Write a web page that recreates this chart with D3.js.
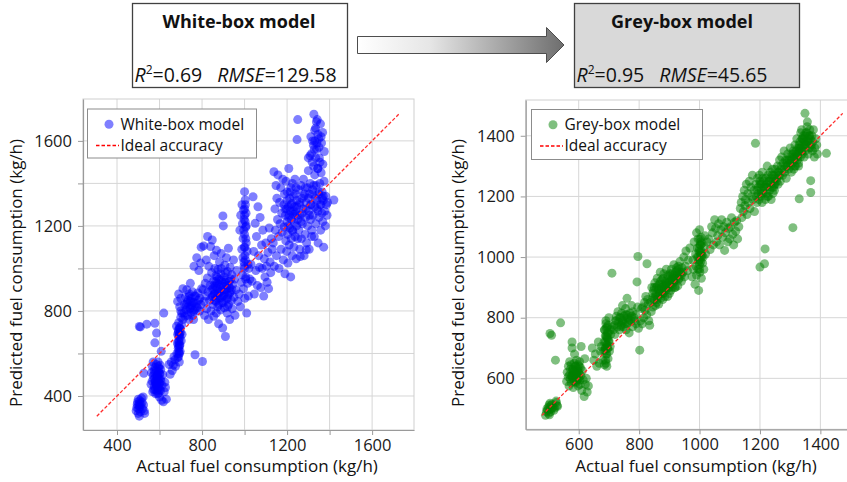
<!DOCTYPE html>
<html>
<head>
<meta charset="utf-8">
<script src="https://cdn.jsdelivr.net/npm/d3@7"></script>
<style>
  html, body { margin: 0; padding: 0; background: #fff; }
  svg { display: block; font-family: "Open Sans", "Noto Sans", sans-serif; }
</style>
</head>
<body>
<svg id="fig" width="847" height="482"></svg>
<script>
// Measured samples: [actual fuel (kg/h), white-box prediction, grey-box prediction]
const samples = [
  // low-load operation ~500 kg/h
  [490,330,478],[493,345,490],[495,360,500],[497,372,495],[500,318,485],[500,385,505],[502,340,512],[503,355,480],
  [505,365,498],[505,305,518],[507,378,490],[508,350,510],[510,325,500],[512,360,515],[515,390,505],[518,370,495],
  [520,340,502],[525,358,525],[528,330,510],[530,318,508],[505,727,748],[510,725,742],[540,738,783],[523,395,660],[526,507,520],
  // ~600 kg/h
  [560,455,590],[562,510,620],[565,470,605],[566,540,640],[568,420,575],[570,495,612],[570,560,655],[572,430,598],
  [573,480,630],[575,520,585],[575,445,645],[577,505,608],[578,650,700],[578,742,720],[580,465,600],[580,535,628],
  [582,410,570],[583,490,615],[585,455,650],[585,548,590],[586,696,680],[588,425,625],[590,500,605],[590,470,640],
  [592,440,585],[593,560,660],[595,515,610],[595,415,595],[597,480,630],[598,530,575],[600,460,620],[600,395,600],
  [602,505,640],[603,545,655],[605,425,580],[607,470,610],[608,610,705],[610,380,560],[612,450,625],[615,500,595],
  [618,373,540],[620,790,665],[622,420,580],[625,465,600],[628,440,555],[632,385,575],
  [578,430,610],[581,470,630],[584,520,600],[587,445,615],[589,495,640],[591,410,590],[594,540,625],[596,465,605],
  [599,505,645],[601,430,615],[604,480,595],[606,525,635],[583,455,620],[592,485,610],[597,440,600],
  // ~650-710 kg/h
  [645,548,700],[650,502,660],[655,560,680],[660,520,640],[665,546,720],[668,585,650],[672,570,690],[675,540,705],
  [680,728,660],[682,600,690],[684,650,720],[685,690,645],[686,580,760],[688,625,700],[688,710,740],[690,660,650],
  [690,745,790],[691,600,680],[692,690,710],[693,560,640],[694,640,770],[695,720,698],[696,675,730],[697,610,665],
  [698,700,750],[700,770,800],[700,800,720],[702,660,690],[704,735,705],[706,690,745],[685,845,760],[690,880,780],
  [695,820,735],[700,860,725],[705,790,760],[710,760,770],
  [687,640,690],[689,700,720],[690,610,700],[691,680,740],[692,655,765],[693,720,680],[694,600,710],[695,690,750],
  [696,640,700],[697,715,775],[689,585,660],[692,630,735],
  // ~720-800 kg/h
  [715,790,760],[718,830,775],[720,775,745],[722,865,790],[725,805,805],[728,900,770],[730,840,820],[732,780,785],
  [735,820,760],[738,760,800],[740,870,775],[742,810,815],[745,845,790],[745,930,840],[748,795,770],[750,860,805],
  [752,825,780],[755,890,830],[757,780,760],[760,840,864],[762,1010,800],[765,805,785],[767,594,750],[770,870,815],
  [772,835,790],[775,1050,840],[778,815,770],[780,885,820],[783,850,800],[785,990,790],[788,800,810],[790,860,780],
  [795,830,835],[798,905,765],[802,562,693],[760,760,810],[710,905,947],[796,1100,1002],[793,1025,918],[826,1150,978],
  [725,830,790],[735,850,800],[745,815,785],[755,840,810],[765,870,795],[775,820,805],[740,880,770],[760,800,780],
  // ~800-970 kg/h
  [805,900,790],[808,1106,830],[810,845,780],[812,780,835],[815,930,800],[818,870,850],[820,1040,825],[822,810,870],
  [825,955,810],[828,890,860],[830,760,845],[832,1010,790],[835,850,775],[838,920,850],[840,1103,820],[842,800,900],
  [845,980,865],[846,865,835],[848,1134,890],[850,905,860],[852,830,915],[854,940,840],[855,775,875],[857,1060,900],
  [858,880,850],[860,1000,930],[862,915,870],[864,845,895],[865,965,845],[867,790,910],[868,1085,880],[870,870,950],
  [872,930,865],[874,820,900],[875,995,925],[877,885,880],[878,740,860],[880,950,910],[882,1030,945],[884,860,895],
  [885,910,870],[887,805,920],[888,975,890],[890,1070,960],[892,895,905],[894,840,870],[895,935,935],[897,720,900],
  [898,1247,915],[900,1200,880],[902,870,945],[904,960,910],[905,815,890],[907,1015,960],[908,900,925],[910,680,900],
  [912,945,940],[914,855,915],[915,1050,975],[917,920,930],[918,790,900],[920,985,950],[922,875,925],[924,1095,965],
  [925,830,940],[928,940,905],[930,760,960],[932,1005,930],[935,890,985],[938,850,945],[940,970,920],[942,810,965],
  [945,925,950],[948,1040,1000],[950,865,935],[953,950,970],[955,780,1020],[960,900,955],[963,990,990],[968,845,1030],
  [845,900,880],[850,870,900],[855,920,870],[860,880,905],[865,940,890],[870,905,920],[875,860,895],[880,925,930],
  [885,890,905],[890,945,915],[895,870,940],[900,915,900],[905,880,925],[910,935,945],[915,900,920],[920,860,935],
  [925,920,955],[930,885,925],[935,950,950],[940,900,940],[880,830,880],[900,840,915],[920,820,900],[870,960,880],
  [910,980,930],[890,1000,905],[860,850,860],[930,910,970],
  // ~1000 kg/h
  [975,880,935],[978,1180,990],[980,820,960],[982,1250,1050],[985,935,910],[987,1090,1010],[988,1300,970],[990,970,1080],
  [990,1210,940],[992,1050,1000],[993,1140,1030],[995,905,960],[995,1275,1060],[997,1010,890],[998,1230,1020],[1000,1160,975],
  [1000,1361,1090],[1001,860,950],[1002,1100,1040],[1003,1322,1005],[1004,1040,985],[1005,1195,1065],[1006,960,930],[1007,1260,1015],
  [1008,1120,1045],[1010,790,980],[1012,1080,1000],[1014,930,960],[1016,1020,1035],[1018,870,1070],[1020,1000,1010],[1025,950,1050],
  [996,1180,1000],[998,1100,1030],[1000,1250,990],[1002,1060,1015],[1004,1300,1050],[1006,1140,1000],[1000,1000,960],[1003,1220,1040],
  [1005,950,1020],[997,1030,985],[1001,1280,1060],[1008,1200,1005],
  // ~1030-1130 kg/h
  [1030,1020,1060],[1035,940,1025],[1040,1337,1100],[1043,1080,1080],[1046,880,1040],[1050,1212,1123],[1053,990,1095],[1056,1150,1050],
  [1060,920,1070],[1063,1290,1110],[1066,1060,1040],[1070,1005,1090],[1073,1240,1123],[1076,910,1065],[1080,1110,1100],[1083,1000,1022],
  [1086,1180,1080],[1090,870,1115],[1093,1045,1050],[1096,960,1095],[1100,1120,1060],[1103,1010,1100],[1106,935,1130],[1110,1075,1075],
  [1113,905,1040],[1116,1190,1115],[1120,1030,1085],[1123,980,1120],[1126,1140,1060],[1130,1090,1100],
  // ~1135-1250 kg/h
  [1135,1120,1160],[1138,1455,1180],[1140,1010,1130],[1143,1280,1200],[1145,1180,1150],[1148,1390,1220],[1150,1060,1170],[1152,1330,1190],
  [1155,1230,1240],[1157,1440,1140],[1160,1150,1210],[1162,1000,1180],[1165,1310,1250],[1167,1210,1160],[1170,1380,1230],[1172,1090,1200],
  [1175,1260,1270],[1177,1170,1190],[1180,1420,1220],[1182,1040,1150],[1185,1300,1375],[1186,1195,1240],[1188,1350,1200],[1190,975,1180],
  [1192,1250,1260],[1194,1130,1210],[1195,1410,1230],[1197,1280,1190],[1198,1080,1270],[1200,1220,967],[1200,1360,1250],[1202,1160,1200],
  [1204,1025,1240],[1205,1290,1220],[1207,1240,1180],[1208,1470,1280],[1210,1110,1210],[1212,1330,1250],[1213,1190,1230],[1215,1270,978],
  [1217,960,1027],[1218,1380,1190],[1220,1140,1260],[1221,1230,1240],[1222,1305,1210],[1224,1060,1300],[1225,1400,1230],[1227,1175,1270],
  [1228,1255,1200],[1230,1340,1250],[1232,1100,1220],[1234,1215,1280],[1235,1290,1240],[1237,1420,1190],[1238,1150,1260],[1240,1265,1230],
  [1242,1380,1290],[1243,1045,1210],[1245,1200,1250],[1246,1320,1270],[1247,1606,1240],[1248,1250,1220],[1250,1700,1260],[1250,1140,1290],
  // high-load operation ~1255-1420 kg/h
  [1255,1180,1260],[1258,1300,1300],[1260,1090,1240],[1262,1250,1280],[1265,1390,1320],[1267,1140,1250],[1270,1330,1290],[1272,1210,1330],
  [1275,1280,1270],[1277,1420,1310],[1280,1060,1350],[1282,1350,1280],[1285,1160,1320],[1287,1240,1260],[1290,1310,1300],[1292,1120,1340],
  [1295,1380,1290],[1297,1200,1320],[1300,1460,1360],[1302,1270,1300],[1304,1090,1280],[1306,1350,1340],[1308,1530,1310],[1309,1400,1097],
  [1310,1230,1350],[1312,1620,1290],[1314,1300,1330],[1316,1180,1370],[1318,1500,1300],[1320,1370,1340],[1322,1250,1390],[1324,1580,1320],
  [1326,1725,1360],[1328,1150,1300],[1330,1440,1350],[1332,1330,1380],[1334,1660,1330],[1335,1210,1410],[1337,1390,1350],[1339,1560,1390],
  [1340,1280,1340],[1342,1700,1370],[1344,1470,1400],[1346,1120,1330],[1348,1350,1380],[1349,1610,1474],[1350,1240,1350],[1352,1520,1410],
  [1354,1400,1370],[1356,1300,1430],[1357,1680,1446],[1358,1180,1380],[1360,1450,1340],[1362,1590,1400],[1364,1260,1360],[1365,1360,1420],
  [1367,1640,1390],[1368,1220,1213],[1368,1490,1252],[1370,1320,1370],[1372,1100,1400],[1374,1410,1350],[1375,1550,1380],[1377,1270,1420],
  [1380,1200,1330],[1382,1340,1360],[1385,1300,1390],[1388,1250,1370],[1390,1310,1340],[1262,1056,1270],[1290,1088,1310],[1315,1150,1300],
  [1345,1470,1360],[1330,1600,1192],[1300,1520,1330],[1420,1322,1342],
  [1190,1280,1220],[1200,1320,1240],[1210,1250,1260],[1220,1300,1230],[1230,1270,1250],[1240,1350,1270],[1250,1230,1240],[1260,1310,1280],
  [1270,1260,1300],[1280,1340,1290],[1290,1280,1320],[1300,1330,1310],[1310,1300,1340],[1320,1350,1330],[1330,1290,1360],[1340,1320,1350],
  [1350,1360,1370],[1360,1300,1380],[1370,1340,1360],[1205,1200,1210],[1225,1180,1200],[1245,1290,1230],[1265,1220,1270],[1285,1380,1300],
  [1305,1250,1320],[1325,1390,1340],[1345,1270,1390],[1365,1330,1400],[1215,1360,1230],[1255,1370,1250],
  [1315,1540,1320],[1320,1600,1350],[1325,1480,1330],[1330,1650,1370],[1335,1520,1360],[1340,1590,1390],[1345,1630,1380],[1350,1570,1400],
  [1355,1500,1410],[1360,1620,1390],[1338,1690,1420],[1328,1560,1310]
];

const modelNames = ["White-box model", "Grey-box model"];
const modelColors = ["#0000ff", "#008000"];
const r2Values = ["0.69", "0.95"];
const rmseValues = ["129.58", "45.65"];
const idealLabel = "Ideal accuracy";
const xTitle = "Actual fuel consumption (kg/h)";
const yTitle = "Predicted fuel consumption (kg/h)";

const leftGridValues = [400, 600, 800, 1000, 1200, 1400, 1600];
const leftTickLabels = [400, 800, 1200, 1600];
const rightGridValues = [600, 800, 1000, 1200, 1400];
const rightTickLabels = [600, 800, 1000, 1200, 1400];

const svg = d3.select("#fig");
svg.append("rect").attr("width", 847).attr("height", 482).attr("fill", "#fff");

const defs = svg.append("defs");

// ---------- header: model boxes joined by a shaded arrow ----------
const grad = defs.append("linearGradient").attr("id", "arrowShade")
  .attr("x1", "0%").attr("x2", "100%").attr("y1", "0%").attr("y2", "0%");
grad.append("stop").attr("offset", "0%").attr("stop-color", "#ffffff");
grad.append("stop").attr("offset", "35%").attr("stop-color", "#e6e6e6");
grad.append("stop").attr("offset", "100%").attr("stop-color", "#6e6e6e");

svg.append("path")
  .attr("d", "M357.5,36.5 L546.5,36.5 L546.5,27.5 L564,45 L546.5,62.5 L546.5,53.5 L357.5,53.5 Z")
  .attr("fill", "url(#arrowShade)")
  .attr("stroke", "#4d4d4d").attr("stroke-width", 1);

const boxes = [
  { x: 132.5, w: 215, fill: "#ffffff" },
  { x: 574.5, w: 225, fill: "#d9d9d9" }
];
boxes.forEach((b, i) => {
  const g = svg.append("g");
  g.append("rect").attr("x", b.x).attr("y", 3.5).attr("width", b.w).attr("height", 84)
    .attr("fill", b.fill).attr("stroke", "#404040").attr("stroke-width", 1.3);
  g.append("text").attr("x", b.x + b.w / 2 - (i ? 5 : 1)).attr("y", 28)
    .attr("text-anchor", "middle").attr("font-weight", 700).attr("font-size", 18)
    .attr("fill", "#111").text(modelNames[i]);
  const t = g.append("text").attr("x", b.x + 2).attr("y", 81.5).attr("font-size", 19.5).attr("fill", "#111");
  t.append("tspan").attr("font-style", "italic").text("R");
  t.append("tspan").attr("font-size", 12).attr("dy", -7.5).text("2");
  t.append("tspan").attr("dy", 7.5).text("=" + r2Values[i]);
  t.append("tspan").attr("dx", 15).attr("font-style", "italic").text("RMSE");
  t.append("tspan").text("=" + rmseValues[i]);
});

// ---------- scatter panels ----------
const panels = [
  {
    key: 0, pred: d => d[1],
    x: d3.scaleLinear().domain([240, 1797]).range([83, 414]),
    y: d3.scaleLinear().domain([240, 1797]).range([430, 99]),
    grid: leftGridValues, labels: leftTickLabels,
    legend: { x: 87.5, y: 109, w: 169, h: 49 },
    xTitleX: 257, yTitleX: 16
  },
  {
    key: 1, pred: d => d[2],
    x: d3.scaleLinear().domain([424.5, 1510]).range([525.7, 853.6]),
    y: d3.scaleLinear().domain([432, 1518]).range([429.3, 100]),
    grid: rightGridValues, labels: rightTickLabels,
    legend: { x: 531.5, y: 109.5, w: 171, h: 50 },
    xTitleX: 696, yTitleX: 458
  }
];

panels.forEach(p => {
  const [x0, x1] = p.x.range();
  const [y0, y1] = p.y.range();
  const g = svg.append("g");
  const clipId = "clip" + p.key;
  defs.append("clipPath").attr("id", clipId).append("rect")
    .attr("x", x0).attr("y", y1).attr("width", x1 - x0).attr("height", y0 - y1);

  // gridlines
  const grid = g.append("g").attr("clip-path", `url(#${clipId})`);
  grid.selectAll("line.gx").data(p.grid).join("line")
    .attr("x1", d => p.x(d)).attr("x2", d => p.x(d)).attr("y1", y1).attr("y2", y0)
    .attr("stroke", "#d6d6d6").attr("stroke-width", 1);
  grid.selectAll("line.gy").data(p.grid).join("line")
    .attr("y1", d => p.y(d)).attr("y2", d => p.y(d)).attr("x1", x0).attr("x2", x1)
    .attr("stroke", "#d6d6d6").attr("stroke-width", 1);

  // outer frame (top / right)
  g.append("rect").attr("x", x0).attr("y", y1).attr("width", x1 - x0).attr("height", y0 - y1)
    .attr("fill", "none").attr("stroke", "#cfcfcf").attr("stroke-width", 1);

  // points
  g.append("g").attr("clip-path", `url(#${clipId})`)
    .selectAll("circle").data(samples).join("circle")
    .attr("cx", d => p.x(d[0])).attr("cy", d => p.y(p.pred(d)))
    .attr("r", 4.5)
    .attr("fill", modelColors[p.key]).attr("fill-opacity", 0.5);

  // ideal accuracy diagonal spanning the data extent
  const lo = d3.min(samples, d => Math.min(d[0], p.pred(d)));
  const hi = d3.max(samples, d => Math.max(d[0], p.pred(d)));
  g.append("line")
    .attr("x1", p.x(lo)).attr("y1", p.y(lo)).attr("x2", p.x(hi)).attr("y2", p.y(hi))
    .attr("stroke", "#ff2a2a").attr("stroke-width", 1.3).attr("stroke-dasharray", "3.5,2");

  // axes
  const fmt = d => p.labels.includes(d) ? d : "";
  const ax = g.append("g").attr("transform", `translate(0,${y0})`)
    .call(d3.axisBottom(p.x).tickValues(p.grid).tickSize(5).tickSizeOuter(0).tickPadding(4).tickFormat(fmt));
  const ay = g.append("g").attr("transform", `translate(${x0},0)`)
    .call(d3.axisLeft(p.y).tickValues(p.grid).tickSize(5).tickSizeOuter(0).tickPadding(6).tickFormat(fmt));
  [ax, ay].forEach(a => {
    a.select(".domain").attr("stroke", "#9a9a9a").attr("stroke-width", 1.2);
    a.selectAll(".tick line").attr("stroke", "#9a9a9a");
    a.selectAll(".tick text").attr("font-size", 16.5).attr("fill", "#1a1a1a")
      .attr("font-family", '"Open Sans", "Noto Sans", sans-serif');
  });

  // axis titles
  g.append("text").attr("x", p.xTitleX).attr("y", 472)
    .attr("text-anchor", "middle").attr("font-size", 17).attr("fill", "#111").text(xTitle);
  g.append("text").attr("transform", `translate(${p.yTitleX},273) rotate(-90)`)
    .attr("dy", "0.35em").attr("text-anchor", "middle").attr("font-size", 17).attr("fill", "#111").text(yTitle);

  // legend
  const L = p.legend;
  const lg = g.append("g");
  lg.append("rect").attr("x", L.x).attr("y", L.y).attr("width", L.w).attr("height", L.h)
    .attr("fill", "#fff").attr("stroke", "#8c8c8c").attr("stroke-width", 1);
  lg.append("circle").attr("cx", L.x + 21.5).attr("cy", L.y + 15.3).attr("r", 4.5)
    .attr("fill", modelColors[p.key]).attr("fill-opacity", 0.5);
  lg.append("text").attr("x", L.x + 33).attr("y", L.y + 20.5).attr("font-size", 15.5)
    .attr("fill", "#111").text(modelNames[p.key]);
  lg.append("line").attr("x1", L.x + 8.5).attr("x2", L.x + 31.5)
    .attr("y1", L.y + 36.5).attr("y2", L.y + 36.5)
    .attr("stroke", "#ff0000").attr("stroke-width", 1.5).attr("stroke-dasharray", "3.5,2");
  lg.append("text").attr("x", L.x + 33).attr("y", L.y + 41.5).attr("font-size", 15.5)
    .attr("fill", "#111").text(idealLabel);
});
</script>
</body>
</html>
